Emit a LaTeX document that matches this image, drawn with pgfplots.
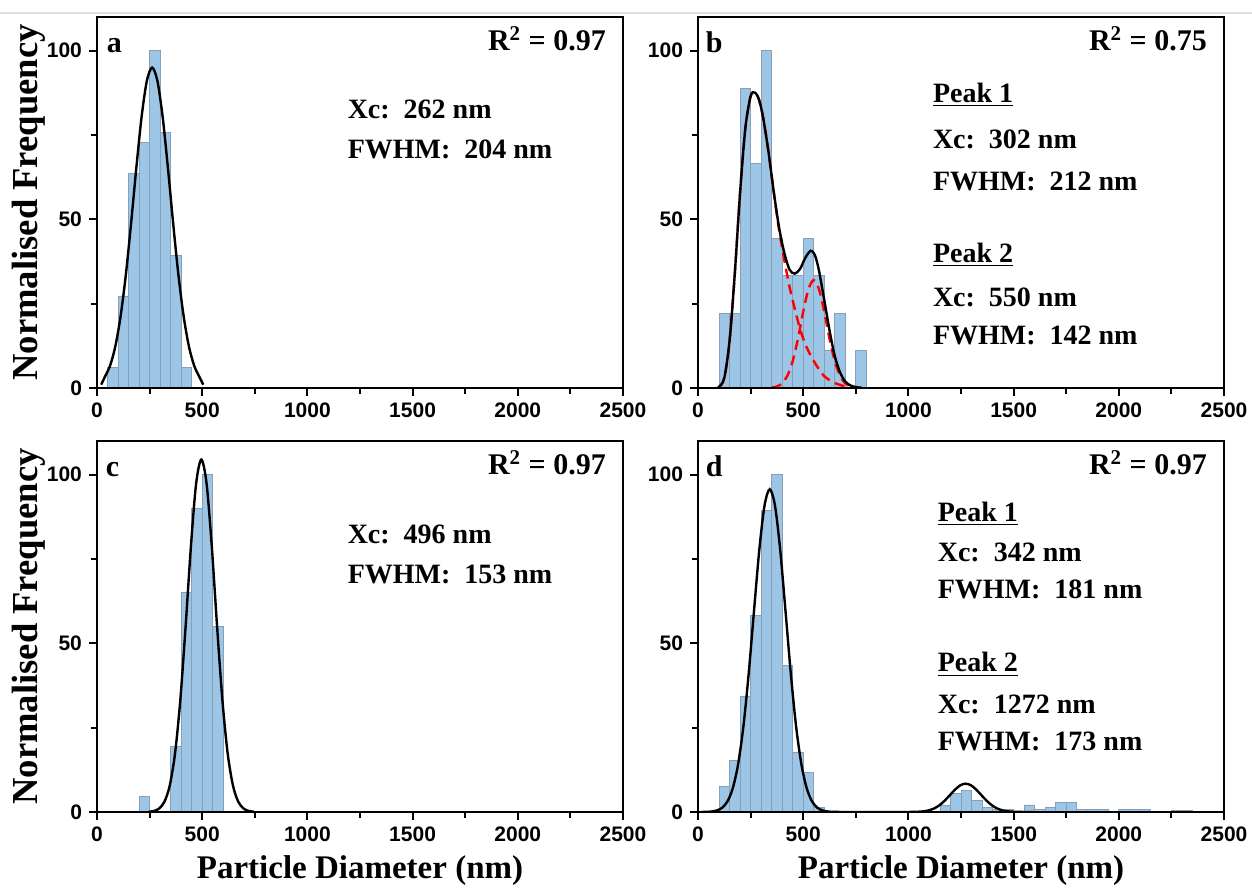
\documentclass[border=0pt]{standalone}
\usepackage{fontspec}
\setmainfont{Liberation Serif}
\setsansfont{Liberation Sans}
\usepackage{pgfplots}
\pgfplotsset{compat=1.18}
\definecolor{barfill}{RGB}{157,197,230}
\definecolor{baredge}{RGB}{135,160,185}
\pgfplotsset{
  panel/.style={
    scale only axis, width=263pt, height=185.5pt, anchor=north west,
    xmin=0, xmax=2500, ymin=0, ymax=110,
    xtick={0,500,...,2500}, ytick={0,50,100},
    minor x tick num=1, minor y tick num=1,
    tick align=outside, xtick pos=left, ytick pos=left,
    major tick length=4pt, minor tick length=3pt,
    every tick/.style={black, line width=1pt},
    axis line style={line width=1.2pt},
    axis on top,
    tick label style={font=\sffamily\bfseries\fontsize{10.5}{12}\selectfont},
    /pgf/number format/assume math mode=true,
    /pgf/number format/1000 sep={},
    xlabel style={font=\bfseries\fontsize{16.5}{18}\selectfont},
    ylabel style={font=\bfseries\fontsize{18.3}{20}\selectfont},
    ylabel shift=-6pt,
  },
  bars/.style={ybar interval, fill=barfill, draw=baredge, line width=0.4pt},
  fit/.style={black, line width=1.2pt, smooth},
  comp/.style={red, line width=1.2pt, dash pattern=on 5pt off 3pt, smooth},
}
\tikzset{
  ann/.style={font=\bfseries\fontsize{14}{16}\selectfont, anchor=west, inner sep=0pt},
  lab/.style={font=\bfseries\fontsize{15}{17}\selectfont, anchor=base west, inner sep=0pt},
  rsq/.style={font=\bfseries\fontsize{15}{17}\selectfont, anchor=base east, inner sep=0pt},
}
\begin{document}
\begin{tikzpicture}
\draw[gray!25, line width=1.2pt] (-48.5pt,2pt) -- (577.5pt,2pt);

% a
\begin{axis}[panel, at={(0pt,0pt)}, ylabel={Normalised Frequency}]
\addplot[bars] coordinates {(50,6.06) (100,27.3) (150,63.6) (200,72.7) (250,100) (300,75.8) (350,39.4) (400,6.06) (450,0)};
\addplot[fit] coordinates {(20,1.0) (37,3.25) (62,6.6) (87,12.3) (112,21.2) (137,33.5) (162,48.8) (187,65.3) (212,80.4) (237,91.1) (262,95) (287,91.1) (312,80.4) (337,65.3) (362,48.8) (387,33.5) (412,21.2) (437,12.3) (462,6.6) (487,3.25) (505,1.0)};
\node[lab] at (axis cs:45,99.4) {a};
\node[rsq] at (axis cs:2420,100) {R\textsuperscript{2} = 0.97};
\node[ann] at (axis cs:1190,82.5) {Xc:\ \ 262 nm};
\node[ann] at (axis cs:1190,70.6) {FWHM:\ \ 204 nm};
\end{axis}

% b
\begin{axis}[panel, at={(300.5pt,0pt)}]
\addplot[bars] coordinates {(100,22.2) (150,22.2) (200,88.9) (250,66.7) (300,100) (350,44.4) (400,33.3) (450,33.3) (500,44.4) (550,33.3) (600,11.1) (650,22.2) (700,0)};
\addplot[bars] coordinates {(750,11.1) (800,0)};
\addplot[comp] coordinates {(100,0.3) (125,3) (150,14) (175,34) (200,58) (225,77) (250,86.5) (270,87.6) (290,85.5) (310,80) (335,70) (360,58) (385,47) (410,38) (435,30) (460,23.5) (485,17.5) (510,13) (535,9.7) (560,7) (600,3.5) (650,1.5) (700,0.5) (750,0.15)};
\addplot[comp] coordinates {(350,0.13) (375,0.45) (400,1.4) (425,3.65) (450,8.0) (475,14.6) (500,22.6) (525,29.3) (550,32) (575,29.3) (600,22.6) (625,14.6) (650,8.0) (675,3.65) (700,1.4) (725,0.45) (750,0.13)};
\addplot[fit] coordinates {(90,0.1) (100,0.3) (125,3) (150,14) (175,34) (200,58) (225,77) (250,86.5) (270,87.6) (290,85.5) (310,80) (335,70) (360,58.2) (385,47.7) (410,40.1) (435,35.1) (460,33.9) (485,35.3) (510,38.6) (535,40.7) (550,40) (560,38.6) (575,34.8) (600,26.1) (625,17.1) (650,9.5) (675,4.65) (700,1.9) (725,0.75) (750,0.28) (780,0.05)};
\node[lab] at (axis cs:35,99.4) {b};
\node[rsq] at (axis cs:2420,100) {R\textsuperscript{2} = 0.75};
\node[ann] at (axis cs:1115,87) {\underline{Peak 1}};
\node[ann] at (axis cs:1115,73.6) {Xc:\ \ 302 nm};
\node[ann] at (axis cs:1115,61.1) {FWHM:\ \ 212 nm};
\node[ann] at (axis cs:1115,39.5) {\underline{Peak 2}};
\node[ann] at (axis cs:1115,27) {Xc:\ \ 550 nm};
\node[ann] at (axis cs:1115,15.7) {FWHM:\ \ 142 nm};
\end{axis}

% c
\begin{axis}[panel, at={(0pt,-212pt)}, ylabel={Normalised Frequency}, xlabel={Particle Diameter (nm)}]
\addplot[bars] coordinates {(200,4.5) (250,0)};
\addplot[bars] coordinates {(350,19.5) (400,65) (450,90) (500,100) (550,55) (600,0)};
\addplot[fit] coordinates {(246,0.08) (271,0.31) (296,1.06) (321,3.1) (346,7.9) (371,17.4) (396,33.2) (421,54.8) (446,78.4) (471,97.3) (496,104.5) (521,97.3) (546,78.4) (571,54.8) (596,33.2) (621,17.4) (646,7.9) (671,3.1) (696,1.06) (721,0.31) (746,0.08)};
\node[lab] at (axis cs:40,99.4) {c};
\node[rsq] at (axis cs:2420,100) {R\textsuperscript{2} = 0.97};
\node[ann] at (axis cs:1190,82.4) {Xc:\ \ 496 nm};
\node[ann] at (axis cs:1190,70.5) {FWHM:\ \ 153 nm};
\end{axis}

% d
\begin{axis}[panel, at={(300.5pt,-212pt)}, xlabel={Particle Diameter (nm)}]
\addplot[bars] coordinates {(100,7.7) (150,15.3) (200,34.4) (250,58.2) (300,89.3) (350,100) (400,43.5) (450,17.8) (500,11.6) (550,1.4) (600,0)};
\addplot[bars] coordinates {(1150,2.1) (1200,5.6) (1250,6.3) (1300,3.5) (1350,1.4) (1400,0.7) (1450,0.7) (1500,0)};
\addplot[bars] coordinates {(1550,2.1) (1600,0.7) (1650,1.4) (1700,2.8) (1750,2.8) (1800,0.7) (1850,0.7) (1900,0.7) (1950,0)};
\addplot[bars] coordinates {(2000,0.7) (2050,0.7) (2100,0.7) (2150,0)};
\addplot[bars] coordinates {(2250,0.35) (2300,0.35) (2350,0)};
\addplot[fit] coordinates {(16,0.01) (41,0.05) (66,0.16) (91,0.49) (116,1.32) (141,3.25) (166,7.2) (191,14.3) (216,25.5) (241,41.1) (266,59.5) (291,77.5) (316,90.8) (341,95.7) (366,90.8) (391,77.5) (416,59.5) (441,41.1) (466,25.5) (491,14.3) (516,7.2) (541,3.25) (566,1.32) (591,0.49) (616,0.16) (641,0.05) (700,0) (800,0) (900,0) (1000,0.01) (1047,0.08) (1072,0.21) (1097,0.49) (1122,1.05) (1147,1.98) (1172,3.33) (1197,4.99) (1222,6.66) (1247,7.93) (1272,8.4) (1297,7.93) (1322,6.66) (1347,4.99) (1372,3.33) (1397,1.98) (1422,1.05) (1447,0.49) (1472,0.21) (1497,0.08) (1550,0.01) (1600,0)};
\node[lab] at (axis cs:35,99.4) {d};
\node[rsq] at (axis cs:2420,100) {R\textsuperscript{2} = 0.97};
\node[ann] at (axis cs:1138,88.4) {\underline{Peak 1}};
\node[ann] at (axis cs:1138,77.1) {Xc:\ \ 342 nm};
\node[ann] at (axis cs:1138,66.1) {FWHM:\ \ 181 nm};
\node[ann] at (axis cs:1138,43.8) {\underline{Peak 2}};
\node[ann] at (axis cs:1138,31.8) {Xc:\ \ 1272 nm};
\node[ann] at (axis cs:1138,20.8) {FWHM:\ \ 173 nm};
\end{axis}

\pgfresetboundingbox
\path[use as bounding box] (-48.5pt,8.5pt) rectangle (577.5pt,-438pt);
\end{tikzpicture}
\end{document}
